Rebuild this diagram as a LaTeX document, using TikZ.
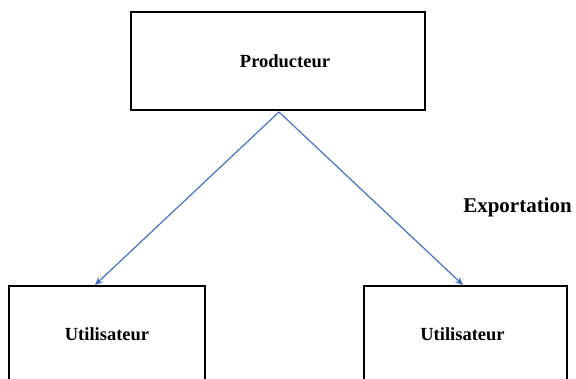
\documentclass[tikz,border=0pt]{standalone}
\usepackage{fontspec}
\setmainfont{Liberation Serif}
\usetikzlibrary{arrows.meta,positioning}
\definecolor{fleche}{RGB}{68,114,196}

\begin{document}
\begin{tikzpicture}[x=1pt,y=-1pt,semithick,every text node part/.style={align=center}]
  \tikzstyle{acteur}=[rectangle,draw=black,line width=1.5pt,
                      font=\bfseries\fontsize{18.5}{22}\selectfont]
  \tikzstyle{flux}=[-{Stealth[length=8pt,width=7pt]},draw=fleche,line width=1.2pt]

  \useasboundingbox (0,0) rectangle (576,378);

  \node[acteur,minimum width=294pt,minimum height=98pt,
        execute at begin node=\hspace*{14pt}] (P) at (278,61) {Producteur};
  \node[acteur,minimum width=196pt,minimum height=96pt] (U1) at (107,334) {Utilisateur};
  \node[acteur,minimum width=203pt,minimum height=96pt,
        execute at end node=\hspace*{6pt}] (U2) at (465.5,334) {Utilisateur};
  \node[font=\bfseries\fontsize{21}{24}\selectfont] (E) at (517.5,207) {Exportation};

  \coordinate (depart) at (279,112);
  \coordinate (g) at (95,285);
  \coordinate (d) at (463,285);

  \path (depart) edge [flux] (g)
        (depart) edge [flux] (d);
\end{tikzpicture}
\end{document}
